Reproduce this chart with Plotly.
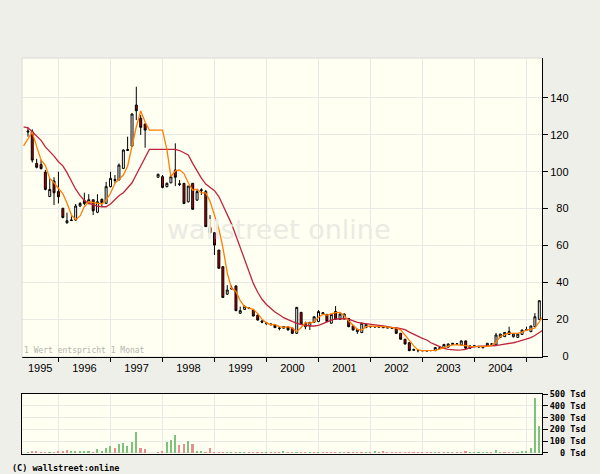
import plotly.graph_objects as go
import pandas as pd

# ---------------- data ----------------
start_month = "1995-06-01"   # first candle
n_candles = 119

opens = [121.5,121.7,104.5,103.9,99.7,86.5,95.0,89.2,80.1,72.3,73.5,73.8,81.4,84.3,82.8,84.8,78.0,85.0,82.8,91.9,
         95.8,95.5,101.8,111.5,113.9,136.2,129.0,125.9,None,None,97.0,97.3,91.9,94.0,100.9,93.5,93.7,83.7,93.7,84.6,
         90.2,89.2,69.8,66.9,57.5,48.5,33.6,36.9,38.0,23.2,25.3,25.8,25.0,22.2,19.0,17.5,17.4,16.8,15.2,15.1,
         15.9,15.1,12.3,23.7,15.9,16.5,18.3,18.7,22.8,22.6,17.8,24.1,19.9,20.1,20.4,16.3,13.2,12.7,15.4,15.8,
         16.0,15.9,15.6,15.4,15.2,15.1,12.3,9.1,7.2,3.5,3.0,2.9,2.9,2.9,2.9,4.2,4.4,4.8,6.2,6.5,
         6.0,8.2,5.5,5.5,5.1,5.1,5.5,6.4,6.0,10.1,10.5,13.2,10.5,10.1,11.7,14.1,13.2,15.9,19.9]
highs = [124.0,123.0,107.0,106.5,101.0,96.5,97.0,100.0,80.5,77.8,75.8,82.5,83.5,88.6,87.8,84.8,87.8,85.5,94.5,100.0,
         98.2,104.5,112.1,119.0,131.7,146.1,130.8,125.9,None,None,98.9,98.2,94.2,98.2,115.4,95.5,93.7,92.2,93.7,90.1,
         91.0,90.1,76.5,66.9,57.5,48.5,38.5,38.2,38.3,26.8,27.5,26.5,25.2,22.5,19.6,18.5,17.6,16.9,15.9,16.1,
         16.1,15.3,26.6,23.9,18.7,18.3,21.5,24.9,23.7,22.8,22.8,27.1,23.0,23.1,20.6,16.5,14.7,18.1,17.4,16.3,
         16.4,16.2,16.0,15.7,15.5,15.3,12.5,9.3,7.4,4.0,3.6,3.1,3.0,3.1,4.8,4.8,6.5,6.8,7.1,6.8,
         8.4,8.4,5.7,5.8,5.5,5.3,7.1,7.0,12.5,12.1,13.0,15.9,12.1,12.1,14.3,15.9,16.5,23.3,30.2]
lows = [119.0,105.0,101.8,101.2,89.9,86.5,81.9,82.8,74.7,71.8,73.3,73.3,80.8,81.9,82.3,76.5,77.5,80.8,82.8,91.5,
        94.0,95.5,101.4,111.4,113.5,128.0,119.9,113.0,None,None,96.7,91.0,91.5,93.7,92.2,92.2,82.4,83.3,79.6,84.2,
        87.4,70.2,66.5,54.8,47.4,31.5,33.1,36.1,24.4,22.8,25.0,25.4,21.5,19.3,17.8,17.0,16.8,15.2,13.9,15.0,
        14.0,12.1,12.1,17.2,14.5,14.1,18.0,18.3,22.5,18.5,17.6,19.6,19.7,19.9,15.7,13.9,12.0,12.5,15.2,15.4,
        15.5,15.5,15.2,15.0,14.8,12.1,8.9,6.3,2.7,2.9,2.0,2.7,2.6,2.7,2.7,4.0,4.2,4.6,6.0,6.3,
        5.8,4.0,4.0,5.2,4.4,4.0,5.3,6.2,5.8,9.9,10.3,11.4,10.0,9.9,11.5,13.9,13.0,15.7,19.7]
closes = [122.0,106.3,102.4,101.7,90.4,90.4,88.6,86.4,75.2,73.4,73.8,81.4,82.8,82.8,84.8,78.8,83.7,83.2,91.9,96.4,
          95.3,103.6,111.8,112.0,131.3,133.1,124.1,122.6,None,None,98.6,91.5,93.7,97.3,97.0,93.1,82.8,92.2,79.6,89.2,
          89.9,70.2,66.9,60.2,47.6,31.8,35.8,36.5,24.6,24.6,26.8,26.0,21.7,19.5,18.4,17.9,17.0,15.4,15.0,15.9,
          14.1,12.3,26.4,17.4,17.8,18.3,21.3,24.1,23.5,18.7,22.6,19.9,22.8,22.8,15.9,14.1,14.5,17.8,17.2,16.0,
          15.8,15.7,15.4,15.3,15.0,12.3,9.1,6.5,2.9,3.2,2.9,2.9,2.8,3.0,4.6,4.3,6.3,6.5,6.9,6.6,
          8.2,4.2,4.2,5.4,5.0,4.6,6.9,6.5,11.4,11.9,12.8,11.7,11.9,11.9,14.1,14.3,16.3,21.3,30.0]

# volume in Tsd, and colour direction (1 = green, 0 = red)
volume = [6,14,14,6,6,6,6,14,14,23,14,14,14,14,14,6,31,14,40,57,
          40,74,86,57,91,177,40,31,None,None,3,14,91,109,151,66,74,100,74,14,
          14,3,40,6,3,3,6,6,6,6,3,3,3,6,6,3,6,3,6,14,
          3,3,3,2,2,6,2,6,2,2,2,6,6,6,2,2,2,2,2,2,
          14,3,14,6,6,6,3,2,2,2,2,2,2,2,6,2,2,2,2,2,
          2,14,6,2,6,6,6,6,23,6,6,6,6,6,14,14,40,469,229]
vol_up = [1,0,0,0,0,1,0,0,0,0,1,1,1,1,1,0,1,1,1,1,
          0,1,1,1,1,1,0,0,0,0,0,0,1,1,1,0,0,1,0,1,
          1,0,0,0,0,0,1,1,0,1,1,0,0,0,0,1,0,0,0,1,
          0,0,1,0,0,1,0,1,0,0,0,0,1,0,0,0,0,0,1,0,
          1,0,0,0,0,0,0,0,0,0,0,0,0,0,1,0,0,1,0,0,
          0,0,1,1,1,1,1,0,1,1,0,0,0,1,1,1,1,1,1]

# moving averages, first value one month before the first candle
ma_start = "1995-05-01"
ma_short = [114,118,121.5,113.6,106.3,103.5,96.4,94,91,88,83,76.5,74,76,81,83.7,83.2,83,82.5,84.6,
            88.3,93.7,96,98.2,103,113.6,124.4,133,127,122.6,122.6,122.6,122.6,112,97.3,100.5,101,99,94,90,
            90.5,88.5,88.5,84,76,69,59,45,36.7,35,30,26.8,26,25.3,23,20,18,16.9,17.2,16,
            15.6,15.9,15.2,13.2,15.5,18.1,17.8,18.5,21,22.6,22.2,23,23.5,23.7,22,19,16.8,14.5,14.1,15.9,
            16.3,16,15.9,15.9,15.6,15.3,15.1,14.2,11.5,8.5,5.5,3.3,2.9,2.9,2.9,3.1,3.8,4.6,5.1,6.0,
            6.0,5.9,5.6,5.2,5.1,5.1,5.1,5.3,5.8,7.5,10.5,11.8,12.3,12.3,12.3,13,14,14.5,15.2,18.5,22]
ma_long = [124.3,123.8,121.7,119.5,117,113.5,111,108.5,105.4,103.2,99.5,94.5,90.5,87,84.4,82.8,82,81.3,81,81,
           82.5,84.8,87,88.6,91.5,94,98.5,103.2,108.2,112.1,112.1,112.1,112.1,112.1,112.1,112.1,111.5,110.4,109.1,104.5,
           100.5,96.5,93.3,91.4,89.7,86.5,82,77.2,71.7,65.3,59,52.6,45.8,39.4,34.6,30.8,28,25.6,23.9,22.4,
           20.8,19.7,18.7,17.7,17.1,16.6,16.3,16.3,16.6,17.6,18.7,19.5,20.1,20.3,20.3,20.0,19,18.3,17.8,17.4,
           17.1,16.9,16.6,16.3,15.8,15.5,15.4,15,14.3,13.0,11.8,10.9,9.6,8.7,7.2,6.2,5.1,4.2,3.6,3.3,
           3.25,3.3,3.6,4.6,5.2,5.4,5.4,5.4,5.4,5.7,6.1,6.4,6.9,7.2,7.8,8.4,9.0,10.0,11.1,12.7,14.3]

year_ticks = [str(y) + "-01-01" for y in range(1996, 2006)]
year_labels = ["1995", "1996", "1997", "1998", "1999", "2000", "2001", "2002", "2003", "2004"]
price_ticks = [0, 20, 40, 60, 80, 100, 120, 140]
vol_ticks = [0, 100, 200, 300, 400, 500]

# ---------------- build ----------------
dates = pd.date_range(start_month, periods=n_candles, freq="MS")
ma_dates = pd.date_range(ma_start, periods=len(ma_short), freq="MS")

x_range = ["1995-04-20", "2005-04-20"]
x0 = pd.Timestamp(x_range[0])
label_pos = []
bounds = [x0] + [pd.Timestamp(t) for t in year_ticks]
for i in range(len(year_labels)):
    a, b = bounds[i], bounds[i + 1]
    label_pos.append(a + (b - a) / 2)

keep = [i for i in range(n_candles) if opens[i] is not None]
cd = [dates[i] for i in keep]

fig = go.Figure()

fig.add_trace(go.Candlestick(
    x=cd,
    open=[opens[i] for i in keep], high=[highs[i] for i in keep],
    low=[lows[i] for i in keep], close=[closes[i] for i in keep],
    increasing=dict(line=dict(color="black", width=1), fillcolor="#ffffff"),
    decreasing=dict(line=dict(color="black", width=1), fillcolor="#c00000"),
    whiskerwidth=0, xaxis="x", yaxis="y", showlegend=False, hoverinfo="skip"))

fig.add_trace(go.Scatter(x=ma_dates, y=ma_long, mode="lines",
                         line=dict(color="#c0243c", width=1.3), xaxis="x", yaxis="y",
                         showlegend=False, hoverinfo="skip"))
fig.add_trace(go.Scatter(x=ma_dates, y=ma_short, mode="lines",
                         line=dict(color="#ff7d00", width=1.3), xaxis="x", yaxis="y",
                         showlegend=False, hoverinfo="skip"))

vcol = ["#7cc47c" if u else "#e39090" for u in vol_up]
fig.add_trace(go.Bar(x=dates, y=volume, marker=dict(color=vcol, line=dict(width=0)),
                     width=1.0e9, xaxis="x2", yaxis="y2", showlegend=False, hoverinfo="skip"))

grid = "#e9e9e6"
tick_font = dict(family="Liberation Sans", size=11, color="black")
mono = dict(family="DejaVu Sans Mono", size=8.5, color="black", weight="bold")

fig.update_layout(
    width=600, height=474,
    margin=dict(l=22, r=58, t=58, b=20),
    paper_bgcolor="#efefe9", plot_bgcolor="#fffff2",
    xaxis=dict(type="date", range=x_range, domain=[0, 1], anchor="y",
               tickmode="array", tickvals=label_pos, ticktext=year_labels,
               ticks="", showgrid=False, tickfont=tick_font,
               showline=True, linecolor="black", linewidth=1, zeroline=False,
               rangeslider=dict(visible=False),
               minor=dict(tickmode="array", tickvals=year_ticks, ticks="outside",
                          ticklen=4, tickcolor="black", tickwidth=1,
                          showgrid=True, gridcolor=grid, gridwidth=1)),
    yaxis=dict(domain=[0.2437, 1], anchor="x", side="right", range=[-0.8, 161.7],
               tickmode="array", tickvals=price_ticks,
               ticktext=[("\u2007" * (3 - len(str(v)))) + str(v) for v in price_ticks],
               ticks="outside", ticklen=5, tickcolor="black", tickfont=tick_font,
               showline=True, linecolor="black", linewidth=1,
               showgrid=True, gridcolor=grid, zeroline=False),
    xaxis2=dict(type="date", range=x_range, domain=[0, 1], anchor="y2",
                showticklabels=False, ticks="", showgrid=False,
                showline=True, linecolor="black", linewidth=1, mirror=True, zeroline=False,
                minor=dict(tickmode="array", tickvals=year_ticks, ticks="",
                           showgrid=True, gridcolor=grid, gridwidth=1)),
    yaxis2=dict(domain=[0, 0.1515], anchor="x2", side="right", range=[-11, 502.5],
                tickmode="array", tickvals=vol_ticks,
                ticktext=[("\u00a0" * (3 - len(str(v)))) + str(v) + "\u00a0Tsd" for v in vol_ticks],
                ticks="outside", ticklen=5, tickcolor="black", tickfont=mono,
                showline=True, linecolor="black", linewidth=1, mirror=True,
                showgrid=True, gridcolor=grid, zeroline=False),
    bargap=0,
    shapes=[
        dict(type="line", xref="paper", yref="paper", x0=0, x1=0, y0=0.2437, y1=1,
             line=dict(color="#d9d9d6", width=1)),
        dict(type="line", xref="paper", yref="paper", x0=0, x1=1, y0=1, y1=1,
             line=dict(color="#d9d9d6", width=1)),
    ],
    annotations=[
        dict(text="wallstreet online", xref="paper", yref="paper", x=0.494, y=0.567,
             showarrow=False, font=dict(family="DejaVu Sans", size=27, color="#ebebe3")),
        dict(text="1 Wert entspricht 1 Monat", xref="paper", yref="paper", x=0.0, y=0.2437,
             xanchor="left", yanchor="bottom", xshift=0, yshift=0, showarrow=False,
             font=dict(family="DejaVu Sans Mono", size=8, color="#b4b4b0")),
        dict(text="(C) wallstreet:online", xref="paper", yref="paper", x=-0.023, y=-0.0355,
             xanchor="left", yanchor="middle", showarrow=False,
             font=dict(family="DejaVu Sans Mono", size=8.5, color="black", weight="bold")),
    ],
)

fig.write_html("out.html", config={"displayModeBar": False},
               post_script="document.body.style.margin='0';document.body.style.overflow='hidden';")
